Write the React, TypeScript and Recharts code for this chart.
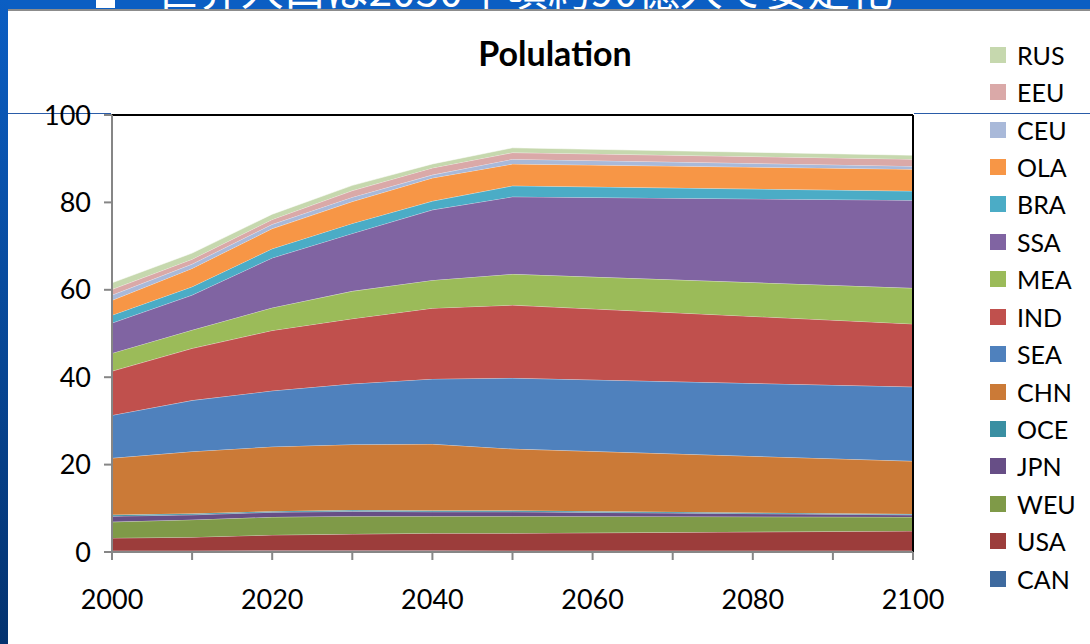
import { AreaChart, Area, XAxis, YAxis, ReferenceLine } from 'recharts';

const YEARS = [2000, 2010, 2020, 2030, 2040, 2050, 2100];
const X_TICKS = [2000, 2010, 2020, 2030, 2040, 2050, 2060, 2070, 2080, 2090, 2100];
const Y_TICKS = [0, 20, 40, 60, 80, 100];

// stack order, bottom to top
const REGIONS = ['CAN', 'USA', 'WEU', 'JPN', 'OCE', 'CHN', 'SEA', 'IND', 'MEA', 'SSA', 'BRA', 'OLA', 'CEU', 'EEU', 'RUS'];

const CAN = [0.3, 0.3, 0.35, 0.35, 0.35, 0.3, 0.3];
const USA = [2.9, 3.1, 3.55, 3.75, 3.95, 4.0, 4.5];
const WEU = [3.7, 4.0, 4.1, 4.1, 3.9, 3.9, 3.2];
const JPN = [1.3, 1.1, 1.1, 1.1, 1.0, 1.0, 0.5];
const OCE = [0.3, 0.3, 0.25, 0.3, 0.3, 0.3, 0.2];
const CHN = [13.0, 14.2, 14.75, 15.0, 15.2, 14.1, 12.1];
const SEA = [9.8, 11.7, 12.8, 13.9, 14.9, 16.2, 17.0];
const IND = [10.1, 11.9, 13.8, 14.9, 16.2, 16.7, 14.4];
const MEA = [4.1, 4.2, 5.2, 6.3, 6.4, 7.1, 8.2];
const SSA = [6.9, 8.0, 11.4, 13.2, 16.1, 17.7, 20.1];
const BRA = [1.8, 1.9, 2.1, 2.3, 2.0, 2.5, 2.1];
const OLA = [3.4, 4.2, 4.6, 5.0, 5.3, 5.0, 5.0];
const CEU = [1.2, 1.0, 1.0, 1.0, 0.7, 1.1, 0.7];
const EEU = [1.3, 1.1, 1.1, 1.5, 1.6, 1.5, 1.6];
const RUS = [1.5, 1.4, 1.2, 1.2, 0.9, 1.1, 0.9];

const VALUES: Record<string, number[]> = { CAN, USA, WEU, JPN, OCE, CHN, SEA, IND, MEA, SSA, BRA, OLA, CEU, EEU, RUS };

const COLORS: Record<string, string> = {
  CAN: '#3E6A9F',
  USA: '#9C3D3B',
  WEU: '#7F9A48',
  JPN: '#674E86',
  OCE: '#3A8FA2',
  CHN: '#CB7A37',
  SEA: '#4F81BD',
  IND: '#C0504D',
  MEA: '#9BBB59',
  SSA: '#8064A2',
  BRA: '#4BACC6',
  OLA: '#F79646',
  CEU: '#A9B9D9',
  EEU: '#DAA9A8',
  RUS: '#C6D8AE',
};

const data = YEARS.map((year, i) => {
  const row: Record<string, number> = { year };
  REGIONS.forEach((r) => {
    row[r] = VALUES[r][i];
  });
  return row;
});

const FONT = 'Lato, "Noto Sans", sans-serif';

function LegendList() {
  return (
    <div style={{ position: 'absolute', left: 990, top: 36, fontFamily: FONT, fontSize: 25, color: '#000' }}>
      {[...REGIONS].reverse().map((r) => (
        <div key={r} style={{ display: 'flex', alignItems: 'center', height: 37.43 }}>
          <span style={{ width: 16, height: 16, background: COLORS[r], marginRight: 11, display: 'inline-block' }} />
          <span>{r}</span>
        </div>
      ))}
    </div>
  );
}

export default function App() {
  return (
    <div style={{ position: 'absolute', left: 0, top: 0, width: 1090, height: 644, background: '#0b5ec3', overflow: 'hidden' }}>
      <div
        style={{
          position: 'absolute',
          left: 0,
          top: 0,
          width: 8,
          height: 644,
          background: 'linear-gradient(#0b5ec3, #04336f)',
        }}
      />
      <div style={{ position: 'absolute', left: 96, top: -2, width: 19, height: 10, background: '#fff' }} />
      <div
        style={{
          position: 'absolute',
          left: 156,
          top: -33,
          fontFamily: '"Noto Sans CJK JP", sans-serif',
          fontSize: 42.5,
          lineHeight: '42px',
          color: '#fff',
          whiteSpace: 'nowrap',
        }}
      >
        世界人口は2050年頃約90億人で安定化
      </div>
      <div style={{ position: 'absolute', left: 8, top: 9, width: 1082, height: 635, background: '#fff' }} />
      <div style={{ position: 'absolute', left: 8, top: 9, width: 1082, height: 2, background: '#8c8c8c' }} />
      <div style={{ position: 'absolute', left: 8, top: 113, width: 103, height: 1, background: '#2a5ca8' }} />
      <div style={{ position: 'absolute', left: 914, top: 113, width: 176, height: 1, background: '#2a5ca8' }} />
      <div
        style={{
          position: 'absolute',
          left: 400,
          top: 32,
          width: 310,
          textAlign: 'center',
          fontFamily: FONT,
          fontWeight: 700,
          fontSize: 34,
          color: '#000',
        }}
      >
        Polulation
      </div>
      <div style={{ position: 'absolute', left: 0, top: 0 }}>
        <AreaChart width={1090} height={644} data={data} margin={{ top: 115, right: 177, bottom: 0, left: 0 }}>
          <XAxis
            dataKey="year"
            type="number"
            domain={[2000, 2100]}
            ticks={X_TICKS}
            tickFormatter={(v: number) => (v % 20 === 0 ? String(v) : '')}
            height={92}
            stroke="#868686"
            strokeWidth={2}
            tickSize={8}
            tickMargin={30}
            tick={{ fill: '#000', fontSize: 27, fontFamily: FONT }}
            interval={0}
          />
          <YAxis
            type="number"
            domain={[0, 100]}
            ticks={Y_TICKS}
            width={112}
            stroke="#868686"
            strokeWidth={2}
            tickSize={8}
            tickMargin={13}
            tick={{ fill: '#000', fontSize: 27, fontFamily: FONT }}
            interval={0}
          />
          {REGIONS.map((r) => (
            <Area
              key={r}
              dataKey={r}
              stackId="1"
              type="linear"
              fill={COLORS[r]}
              fillOpacity={1}
              stroke="#ffffff"
              strokeOpacity={0.7}
              strokeWidth={0.8}
              isAnimationActive={false}
            />
          ))}
          <ReferenceLine y={100} stroke="#000" strokeWidth={2} />
          <ReferenceLine x={2100} stroke="#000" strokeWidth={2} />
        </AreaChart>
      </div>
      <LegendList />
    </div>
  );
}
